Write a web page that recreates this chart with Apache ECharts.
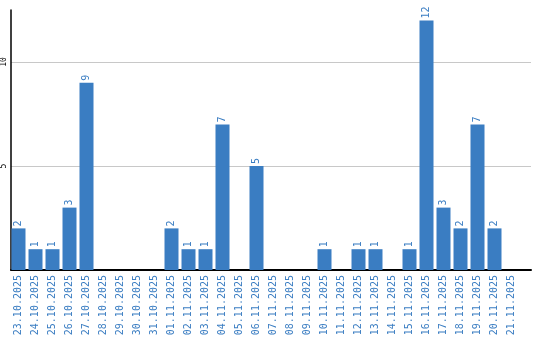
<!DOCTYPE html>
<html><head><meta charset="utf-8">
<script src="https://cdn.jsdelivr.net/npm/echarts@6/dist/echarts.min.js"></script>
<style>html,body{margin:0;padding:0;background:#fff}#c{width:540px;height:340px}</style>
</head><body><div id="c"></div>
<script>
var categories = ['23.10.2025','24.10.2025','25.10.2025','26.10.2025','27.10.2025','28.10.2025','29.10.2025','30.10.2025','31.10.2025','01.11.2025','02.11.2025','03.11.2025','04.11.2025','05.11.2025','06.11.2025','07.11.2025','08.11.2025','09.11.2025','10.11.2025','11.11.2025','12.11.2025','13.11.2025','14.11.2025','15.11.2025','16.11.2025','17.11.2025','18.11.2025','19.11.2025','20.11.2025','21.11.2025'];
var values = [2,1,1,3,9,0,0,0,0,2,1,1,7,0,5,0,0,0,1,0,1,1,0,1,12,3,2,7,2,0];
var yMax = 12.5;
var yInterval = 5;

var chart = echarts.init(document.getElementById('c'), null, {renderer:'canvas'});
var blue = '#3a7dc2';
chart.setOption({
  animation:false,
  grid:[
    {left:10, width:510, top:10, bottom:70},
    {left:10, right:9, top:10, bottom:70}
  ],
  xAxis:[
    {type:'category', gridIndex:0, data:categories,
     axisLine:{show:false}, axisTick:{show:false},
     axisLabel:{rotate:90, interval:0, margin:5, color:blue, fontFamily:'DejaVu Sans Mono', fontSize:10}},
    {type:'value', gridIndex:1, min:0, max:1,
     axisLine:{show:true, onZero:false, lineStyle:{color:'#000', width:2}},
     axisTick:{show:false}, axisLabel:{show:false}, splitLine:{show:false}}
  ],
  yAxis:[
    {type:'value', gridIndex:0, min:0, max:yMax, interval:yInterval, show:false},
    {type:'value', gridIndex:1, min:0, max:yMax, interval:yInterval,
     axisLine:{show:true, lineStyle:{color:'#000', width:1.5}},
     axisTick:{show:false},
     splitLine:{show:true, lineStyle:{color:['#c8c8c8','#c8c8c8','#c8c8c8','rgba(0,0,0,0)'], width:1}},
     axisLabel:{rotate:90, margin:3, color:'#000', fontFamily:'DejaVu Sans Mono', fontSize:8, showMinLabel:false, showMaxLabel:false,
       formatter:function(v){return (v===0||v===yMax)?'':String(v);}}}
  ],
  series:[{
    type:'bar', xAxisIndex:0, yAxisIndex:0, data:values, barWidth:14,
    itemStyle:{color:blue},
    label:{show:true, position:'top', rotate:90, align:'left', verticalAlign:'middle', distance:2,
      color:blue, fontFamily:'DejaVu Sans Mono', fontSize:10,
      formatter:function(p){return p.value===0?'':String(p.value);}}
  }]
});
</script></body></html>
